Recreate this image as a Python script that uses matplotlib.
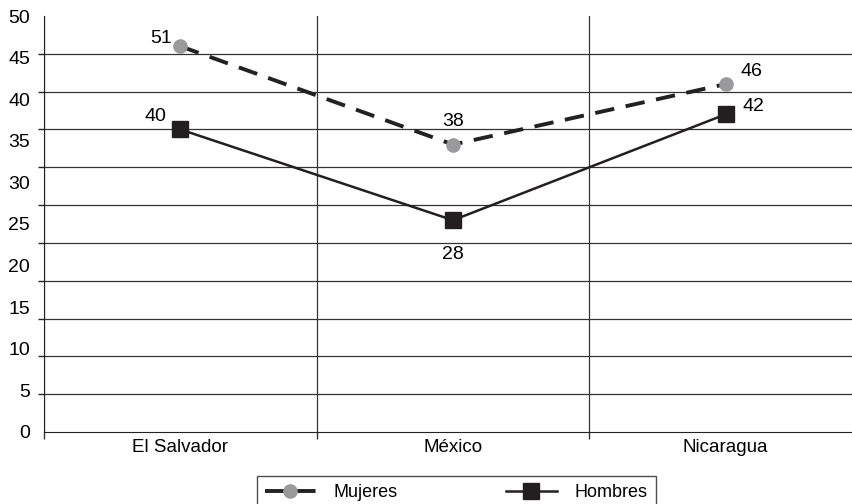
import numpy as np
import matplotlib.pyplot as plt

plt.rcParams['font.family'] = ['Liberation Sans', 'DejaVu Sans']

paises = ['El Salvador', 'México', 'Nicaragua']
mujeres = [51, 38, 46]
hombres = [40, 28, 42]
ytick_labels = [0, 5, 10, 15, 20, 25, 30, 35, 40, 45, 50]

fig = plt.figure(figsize=(8.52, 5.04), dpi=100)
ax = fig.add_axes([44 / 852, 72 / 504, 818 / 852, 416 / 504])

x = np.arange(len(paises))
ax.plot(x, mujeres, color='#222222', lw=2.8, dashes=(5, 3), marker='o',
        markersize=9.5, markerfacecolor='#9a9a9c', markeredgecolor='#9a9a9c',
        label='Mujeres', zorder=3)
ax.plot(x, hombres, color='#231f20', lw=1.8, marker='s', markersize=11,
        markerfacecolor='#231f20', markeredgecolor='#231f20',
        label='Hombres', zorder=3)

off_m = [(-19, 8), (0, 23), (26, 13)]
off_h = [(-25, 13), (0, -34), (28, 8)]
for i in range(len(paises)):
    ax.annotate(str(mujeres[i]), (x[i], mujeres[i]), xytext=off_m[i],
                textcoords='offset pixels', ha='center', va='center', fontsize=14)
    ax.annotate(str(hombres[i]), (x[i], hombres[i]), xytext=off_h[i],
                textcoords='offset pixels', ha='center', va='center', fontsize=14)

ax.set_xlim(-0.5, 2.5)
ax.set_ylim(0, 55)

# the labels are spread over the full height, the grid runs every 5 up to 55
ax.set_yticks([v * 55 / 50 for v in ytick_labels])
ax.set_yticklabels([str(v) for v in ytick_labels])
ax.set_yticks(np.arange(0, 56, 5), minor=True)
ax.tick_params(axis='y', which='major', length=0, pad=10, labelsize=14)
ax.tick_params(axis='y', which='minor', length=4.5, width=1, color='#222222')
ax.grid(axis='y', which='minor', color='#333333', lw=0.9)

ax.set_xticks(x)
ax.set_xticklabels(paises)
ax.set_xticks([-0.5, 0.5, 1.5], minor=True)
ax.tick_params(axis='x', which='major', length=0, pad=5, labelsize=13.5)
ax.tick_params(axis='x', which='minor', length=5, width=1, color='#333333')
ax.grid(axis='x', which='minor', color='#333333', lw=0.9)
ax.set_axisbelow(True)

for s in ['top', 'right']:
    ax.spines[s].set_visible(False)
ax.spines['left'].set_color('#222222')
ax.spines['bottom'].set_color('#222222')

leg = fig.legend(loc='upper left', bbox_to_anchor=(257 / 852, 1 - 476 / 504),
                 borderaxespad=0, ncol=2, fontsize=13, frameon=True,
                 fancybox=False, edgecolor='#222222', handlelength=2.8,
                 columnspacing=6.0, borderpad=0.45, handletextpad=1.0)
leg.get_frame().set_linewidth(1)

fig.savefig('out.png', dpi=100)
